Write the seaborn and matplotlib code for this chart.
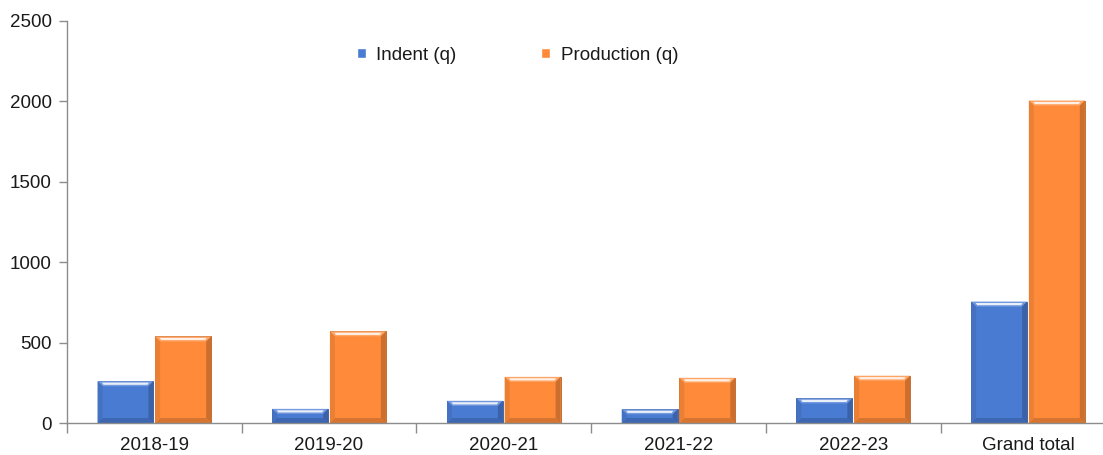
import matplotlib
matplotlib.use("Agg")
import matplotlib.pyplot as plt
from matplotlib.patches import Polygon
from matplotlib.colors import to_rgb
import numpy as np
import pandas as pd
import seaborn as sns

# Seed indent and production by season (quintals)
seasons = ["2018-19", "2019-20", "2020-21", "2021-22", "2022-23", "Grand total"]
indent = [260, 88, 138, 85, 153, 755]
production = [538, 570, 287, 281, 294, 2005]
series_names = ["Indent (q)", "Production (q)"]
series_colors = ["#4A7BD3", "#FF8B3A"]

df = pd.DataFrame({
    "season": seasons * 2,
    "value": indent + production,
    "series": [series_names[0]] * len(seasons) + [series_names[1]] * len(seasons),
})

sns.set_theme(style="white")
plt.rcParams["font.family"] = ["Liberation Sans", "DejaVu Sans"]

fig = plt.figure(figsize=(11.03, 4.55), dpi=100)
ax = fig.add_axes([0.0607, 0.0703, 0.9505, 0.8837])

sns.barplot(data=df, x="season", y="value", hue="series", order=seasons,
            hue_order=series_names, palette=series_colors, width=0.66,
            gap=0.03, saturation=1, ax=ax, legend=True)

ax.set_xlim(-0.5, len(seasons) - 0.5)
ax.set_ylim(0, 2500)
ax.set_yticks(np.arange(0, 2501, 500))
ax.set_xlabel("")
ax.set_ylabel("")

for side in ("top", "right"):
    ax.spines[side].set_visible(False)
for side in ("left", "bottom"):
    ax.spines[side].set_color("#8c8c8c")
    ax.spines[side].set_linewidth(1.0)

# category separators drawn as minor ticks below the axis
ax.set_xticks(np.arange(-0.5, len(seasons), 1.0), minor=True)
ax.tick_params(axis="x", which="major", length=0, pad=10, labelsize=13.5,
               labelcolor="#1a1a1a")
ax.tick_params(axis="x", which="minor", length=7, width=1.0, color="#8c8c8c",
               bottom=True)
ax.tick_params(axis="y", which="major", length=6, width=1.0, color="#8c8c8c",
               left=True, pad=5, labelsize=13.5, labelcolor="#1a1a1a")


def shade(c, f):
    r, g, b = to_rgb(c)
    if f < 1:
        return (r * f, g * f, b * f)
    t = f - 1
    return (r + (1 - r) * t, g + (1 - g) * t, b + (1 - b) * t)


# bevelled look on each bar, sized in pixels from the bar's own extent
fig.canvas.draw()
to_disp = ax.transData
to_data = ax.transData.inverted()
bev = 5.0
for patch in list(ax.patches):
    if patch.get_height() <= 0:
        continue
    base = patch.get_facecolor()
    x0, y0 = patch.get_x(), patch.get_y()
    x1, y1 = x0 + patch.get_width(), y0 + patch.get_height()
    (px0, py0), (px1, py1) = to_disp.transform([(x0, y0), (x1, y1)])
    b = min(bev, (py1 - py0) / 2.4, (px1 - px0) / 4)
    pts = lambda arr: to_data.transform(arr)
    outer = [(px0, py0), (px1, py0), (px1, py1), (px0, py1)]
    inner = [(px0 + b, py0 + b), (px1 - b, py0 + b), (px1 - b, py1 - b), (px0 + b, py1 - b)]
    faces = [
        ([outer[3], outer[2], inner[2], inner[3]], shade(base, 1.22)),  # top
        ([outer[0], outer[1], inner[1], inner[0]], shade(base, 0.84)),  # bottom
        ([outer[0], outer[3], inner[3], inner[0]], shade(base, 0.92)),  # left
        ([outer[1], outer[2], inner[2], inner[1]], shade(base, 0.80)),  # right
    ]
    for poly, col in faces:
        ax.add_patch(Polygon(pts(poly), closed=True, facecolor=col,
                             edgecolor="none", zorder=patch.get_zorder() + 0.1))
    # glossy streak along the top bevel
    sy = py1 - b * 0.5
    streak = [(px0 + b * 0.9, sy + 1.1), (px1 - b * 0.9, sy + 1.1),
              (px1 - b * 1.2, sy - 1.1), (px0 + b * 1.2, sy - 1.1)]
    ax.add_patch(Polygon(pts(streak), closed=True, facecolor="white",
                         edgecolor="none", alpha=0.85,
                         zorder=patch.get_zorder() + 0.2))
    patch.set_edgecolor(shade(base, 0.72))
    patch.set_linewidth(0.6)

leg = ax.legend(loc="center", bbox_to_anchor=(0.469, 0.879),
                bbox_transform=fig.transFigure, ncol=2, frameon=False,
                fontsize=13.5, handlelength=0.5, handleheight=0.5,
                handletextpad=0.55, columnspacing=4.5)
for txt in leg.get_texts():
    txt.set_color("#1a1a1a")

fig.savefig("out.png", dpi=100)
